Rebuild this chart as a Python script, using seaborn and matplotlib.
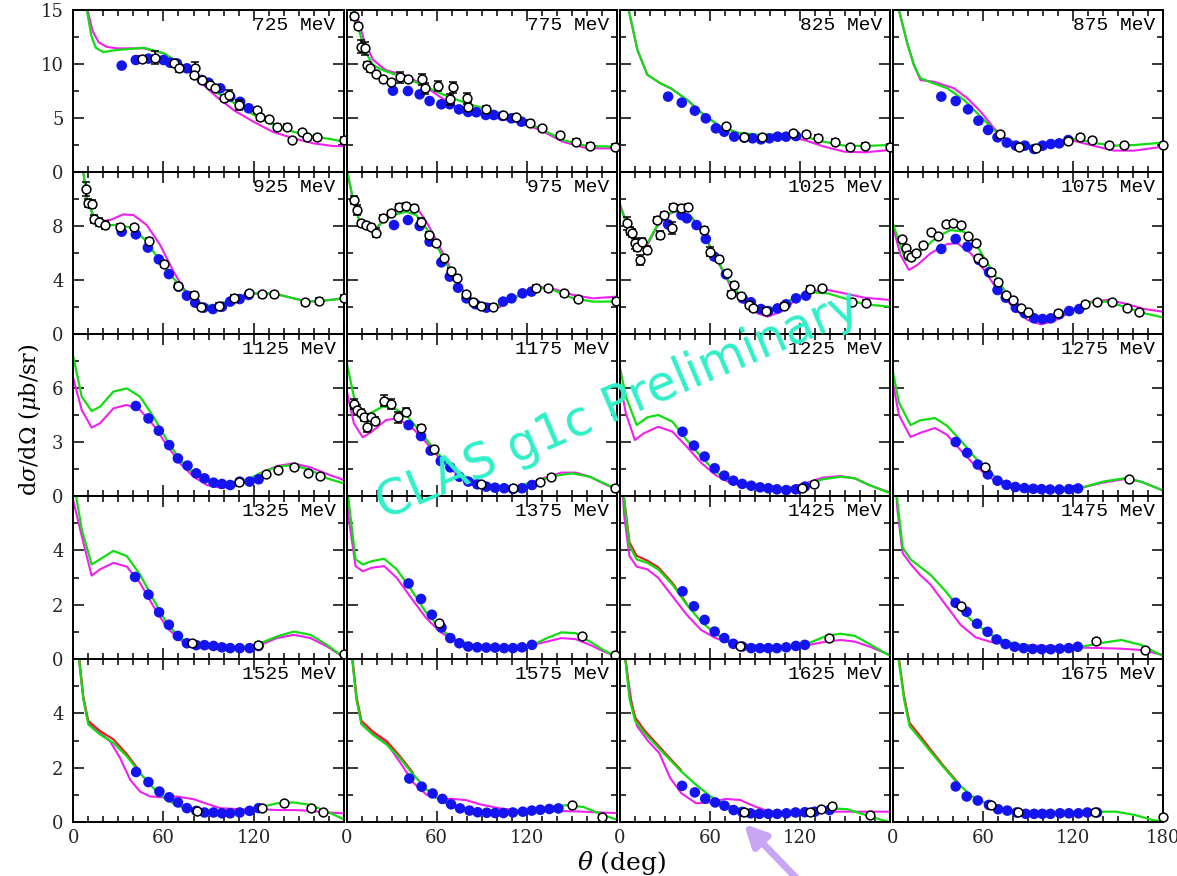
import matplotlib
matplotlib.use("Agg")
import matplotlib.pyplot as plt
import seaborn as sns
from matplotlib.ticker import MultipleLocator, FixedLocator
from matplotlib.patches import FancyArrowPatch

sns.set_theme(style="white")
plt.rcParams['font.family'] = ['DejaVu Serif', 'DejaVu Sans']
plt.rcParams['mathtext.fontset'] = 'dejavuserif'

energies = [725, 775, 825, 875, 925, 975, 1025, 1075, 1125, 1175, 1225, 1275,
            1325, 1375, 1425, 1475, 1525, 1575, 1625, 1675]

row_ymax = [15, 12, 9, 6, 6]
row_minor = [2.5, 2, 1.5, 1, 1]
row_ticklabels = [[0, 5, 10, 15], [0, 4, 8], [0, 3, 6], [0, 2, 4], [0, 2, 4]]
x_ticklabels = [0, 60, 120]

# ---- model curves (theta in deg, dsigma/dOmega in mub/sr) ----
green_th = {
    725: [0, 4, 9, 12, 15, 20, 29, 47, 60, 73, 84, 95, 107, 120, 133, 147, 160, 173, 180],
    775: [0, 4, 7.6, 12, 17.6, 24, 35, 51, 62, 80, 95, 113, 128.7, 144, 160, 180],
    825: [0, 3, 6, 11.8, 18.4, 27.3, 34, 45, 56, 67.3, 78.4, 94, 114, 123, 136, 149.6, 163, 180],
    875: [0, 2, 4, 9.6, 14, 18.4, 27.3, 36.2, 47.3, 58.4, 67.3, 76.2, 85, 96, 107, 118.4, 125, 136, 147, 160.7, 180],
    925: [0, 3, 6.7, 8.9, 12.2, 15.6, 22.2, 31, 40, 48.9, 57.8, 66.7, 75.6, 84.4, 93.3, 102.2, 111, 120, 133, 146.7, 155.6, 164.4, 180],
    975: [0, 4.2, 8.7, 13.1, 18.7, 24.2, 30.9, 39.8, 46.4, 53.1, 59.8, 66.4, 73.1, 79.8, 88.7, 95.3, 102, 110.9, 119.8, 128.7, 137.6, 150.9, 164, 180],
    1025: [0, 4, 8.4, 12.9, 18.4, 25.1, 32.9, 40.7, 48.4, 56.2, 65.1, 74, 82.9, 91.8, 98.4, 107.3, 118.4, 127.3, 138.4, 149.6, 162.9, 180],
    1075: [0, 4, 8.4, 12.9, 20.7, 29.6, 38.4, 47.3, 56.2, 65.1, 74, 82.9, 91.8, 100.7, 109.6, 120.7, 131.8, 142.9, 154, 167.3, 180],
    1125: [0, 5.6, 12.2, 17.8, 26.7, 35.6, 44.4, 53.3, 62.2, 71.1, 80, 88.9, 97.8, 106.7, 115.6, 124.4, 135.6, 146.7, 157.8, 168.9, 180],
    1175: [0, 4.9, 9.6, 15.6, 23.9, 31, 40.6, 50.1, 59.6, 69.1, 78.7, 90.6, 102.5, 114.4, 126.3, 138.2, 150.1, 162, 171.5, 180],
    1225: [0, 4.1, 11.3, 18.4, 25.6, 35.1, 44.6, 54.1, 63.7, 73.2, 85.1, 99.4, 113.7, 123.2, 135.1, 147, 156.5, 166, 180],
    1275: [0, 4, 11.7, 18, 28, 36, 45, 54, 62, 70, 80, 95, 110, 125, 140, 155, 165, 180],
    1325: [0, 2.2, 5.6, 12.2, 17.8, 26.7, 35.6, 44.4, 53.3, 62.2, 71.1, 80, 88.9, 102.2, 115.6, 124.4, 135.6, 146.7, 157.8, 168.9, 180],
    1375: [0, 1.3, 6, 10.8, 16.8, 25.1, 33.4, 43, 52.5, 62, 71.5, 83.4, 95.3, 109.6, 124, 133.4, 143, 152.5, 162, 171.5, 180],
    1425: [0, 3, 6.5, 11.3, 18.4, 25.6, 35.1, 44.6, 54.1, 63.7, 73.2, 85.1, 99.4, 113.7, 125.6, 137.5, 147, 156.5, 166, 180],
    1475: [0, 3, 6.5, 11.7, 18, 25, 35, 45, 55, 65, 75, 85, 100, 115, 125, 140, 152, 165, 180],
    1525: [0, 3.8, 6.7, 10, 17.8, 26.7, 35.6, 44.4, 53.3, 62.2, 71.1, 80, 88.9, 102.2, 115.6, 124.4, 135.6, 146.7, 157.8, 168.9, 180],
    1575: [0, 3.8, 6.7, 10, 17.8, 26.7, 35.6, 44.4, 53.3, 62.2, 71.1, 80, 88.9, 102.2, 115.6, 124.4, 135.6, 146.7, 157.8, 168.9, 180],
    1625: [0, 3.7, 6.6, 10.3, 16.4, 23.8, 31.2, 41, 50.8, 60.6, 70.4, 82.7, 95, 109.7, 124.4, 139.1, 151.4, 163.6, 178.4, 180],
    1675: [0, 3.8, 7.4, 11.1, 18.5, 25.8, 33.2, 43, 52.8, 62.6, 74.9, 89.6, 104.3, 121.5, 136.2, 148.5, 160.8, 173, 180],
}
green_y = {
    725: [40, 25, 15, 12.6, 11.5, 11.1, 11.3, 11.5, 11.0, 9.9, 8.7, 7.4, 6.4, 5.3, 4.35, 3.7, 3.3, 3.0, 2.8],
    775: [25, 15, 13.5, 11.3, 9.9, 9.44, 8.9, 8.05, 7.3, 6.36, 5.74, 4.97, 4.04, 2.96, 2.4, 2.35],
    825: [30, 20, 15, 11.3, 9.0, 8.2, 7.75, 6.67, 5.28, 4.2, 3.64, 3.43, 3.52, 3.27, 2.8, 2.44, 2.41, 2.5],
    875: [30, 20, 15, 11.9, 9.9, 8.67, 8.2, 7.75, 6.67, 5.12, 3.89, 2.96, 2.5, 2.41, 2.65, 3.12, 2.96, 2.65, 2.44, 2.5, 2.72],
    925: [20, 15, 12, 10.05, 9.06, 8.32, 8.07, 8.07, 7.83, 6.84, 5.36, 4.12, 3.01, 2.27, 2.02, 2.4, 2.77, 3.01, 3.01, 2.64, 2.4, 2.44, 2.64],
    975: [12.3, 10.05, 8.32, 7.83, 7.7, 8.32, 8.81, 9.06, 8.81, 7.83, 6.59, 5.23, 3.88, 2.89, 2.15, 1.95, 2.15, 2.64, 3.14, 3.43, 3.26, 2.64, 2.4, 2.4],
    1025: [9.56, 8.32, 7.09, 6.35, 6.72, 8.07, 8.94, 9.19, 8.57, 7.33, 5.48, 3.63, 2.52, 1.9, 1.78, 2.15, 2.77, 3.09, 3.01, 2.64, 2.2, 2.02],
    1075: [8.2, 6.84, 5.48, 5.6, 6.35, 7.21, 7.7, 7.58, 6.47, 4.86, 3.26, 2.15, 1.41, 1.11, 1.41, 1.9, 2.35, 2.4, 2.02, 1.53, 1.23],
    1125: [7.74, 5.52, 4.72, 4.96, 5.8, 5.98, 5.52, 4.41, 3.11, 2.0, 1.26, 0.8, 0.65, 0.7, 0.89, 1.26, 1.63, 1.72, 1.44, 0.98, 0.7],
    1175: [7.46, 5.52, 4.5, 4.59, 4.96, 4.93, 4.41, 3.48, 2.46, 1.63, 1.07, 0.7, 0.52, 0.56, 0.8, 1.11, 1.26, 1.07, 0.7, 0.37],
    1225: [7.19, 5.52, 3.94, 4.37, 4.5, 4.13, 3.11, 2.19, 1.35, 0.89, 0.56, 0.41, 0.43, 0.61, 0.93, 1.07, 0.98, 0.61, 0.15],
    1275: [6.9, 5.2, 3.94, 4.2, 4.33, 3.9, 3.1, 2.2, 1.44, 0.95, 0.6, 0.4, 0.35, 0.45, 0.8, 1.0, 0.8, 0.3],
    1325: [8, 5.89, 4.78, 3.48, 3.67, 3.98, 3.79, 3.11, 2.19, 1.32, 0.77, 0.52, 0.43, 0.4, 0.46, 0.58, 0.83, 1.01, 0.89, 0.52, 0.06],
    1375: [7, 5.89, 3.67, 3.48, 3.6, 3.69, 3.3, 2.56, 1.75, 1.14, 0.73, 0.52, 0.43, 0.43, 0.52, 0.77, 0.98, 0.95, 0.64, 0.31, 0.09],
    1425: [8, 5.77, 4.16, 3.67, 3.54, 3.3, 2.74, 2.0, 1.38, 0.93, 0.64, 0.48, 0.4, 0.43, 0.58, 0.85, 0.93, 0.85, 0.56, 0.11],
    1475: [8, 5.8, 4.1, 3.67, 3.4, 3.1, 2.5, 1.8, 1.3, 0.9, 0.65, 0.52, 0.42, 0.41, 0.45, 0.6, 0.7, 0.52, 0.1],
    1525: [9, 6.0, 4.52, 3.59, 3.22, 2.91, 2.42, 1.8, 1.25, 0.81, 0.57, 0.44, 0.38, 0.35, 0.42, 0.54, 0.69, 0.72, 0.63, 0.38, 0.1],
    1575: [9, 6.0, 4.5, 3.6, 3.2, 2.85, 2.35, 1.75, 1.2, 0.8, 0.55, 0.43, 0.37, 0.34, 0.38, 0.45, 0.55, 0.62, 0.55, 0.3, 0.08],
    1625: [9, 6.0, 4.52, 3.72, 3.28, 2.85, 2.42, 1.86, 1.37, 0.94, 0.63, 0.44, 0.36, 0.35, 0.38, 0.51, 0.47, 0.26, 0.01, 0.0],
    1675: [9, 6, 4.52, 3.53, 3.04, 2.54, 2.05, 1.43, 0.94, 0.67, 0.47, 0.36, 0.32, 0.32, 0.38, 0.38, 0.26, 0.07, 0.01],
}

magenta_th = {
    725: [0, 4, 9.5, 13, 17, 22, 29, 47, 60, 73, 84, 95, 107, 120, 133, 147, 160, 173, 180],
    775: [0, 4, 8, 12, 17.6, 26, 40, 51, 62, 73, 95, 113, 128.7, 144, 160, 180],
    825: [0, 3, 6, 11.8, 18.4, 27.3, 34, 45, 56, 67.3, 78.4, 94, 114, 123, 136, 149.6, 163, 180],
    875: [0, 2, 4, 9.6, 14, 18.4, 27.3, 40.7, 49.6, 58.4, 67.3, 76.2, 96, 118.4, 136, 147, 160.7, 180],
    925: [0, 3, 6.7, 8.9, 12.2, 15.6, 24.4, 33.3, 40, 48.9, 57.8, 66.7, 73.3, 84.4, 93.3, 102.2, 111, 120, 133, 146.7, 155.6, 164.4, 180],
    975: [0, 4.2, 8.7, 13.1, 18.7, 24.2, 30.9, 39.8, 46.4, 53.1, 59.8, 66.4, 73.1, 79.8, 88.7, 95.3, 102, 110.9, 119.8, 128.7, 137.6, 150.9, 164, 180],
    1025: [0, 4, 8.4, 12.9, 18.4, 25.1, 32.9, 40.7, 48.4, 56.2, 65.1, 74, 82.9, 91.8, 98.4, 107.3, 118.4, 127.3, 138.4, 149.6, 162.9, 180],
    1075: [0, 5.1, 10.7, 16.2, 25.1, 36.2, 42.9, 51.8, 60.7, 69.6, 80.7, 89.6, 98.4, 107.3, 118.4, 131.8, 142.9, 154, 167.3, 180],
    1125: [0, 5.6, 12.2, 17.8, 26.7, 35.6, 44.4, 53.3, 62.2, 71.1, 80, 88.9, 97.8, 106.7, 115.6, 124.4, 135.6, 146.7, 157.8, 168.9, 180],
    1175: [0, 4.9, 10.8, 16.8, 26.3, 33.4, 43, 52.5, 62, 71.5, 81, 93, 104.9, 116.8, 128.7, 143, 152.5, 162, 171.5, 180],
    1225: [0, 4.1, 10.1, 16, 25.6, 35.1, 44.6, 54.1, 63.7, 73.2, 85.1, 99.4, 113.7, 123.2, 135.1, 147, 156.5, 166, 180],
    1275: [0, 4, 11.7, 18, 28, 36, 45, 54, 62, 70, 80, 95, 110, 125, 140, 155, 165, 180],
    1325: [0, 5.6, 12.2, 17.8, 26.7, 35.6, 44.4, 53.3, 62.2, 71.1, 80, 88.9, 102.2, 115.6, 124.4, 135.6, 146.7, 157.8, 168.9, 180],
    1375: [0, 1.3, 6, 10.8, 16.8, 25.1, 33.4, 43, 52.5, 62, 71.5, 83.4, 95.3, 109.6, 124, 133.4, 143, 152.5, 162, 171.5, 180],
    1425: [0, 3, 6.5, 11.3, 18.4, 25.6, 35.1, 44.6, 54.1, 63.7, 73.2, 85.1, 99.4, 113.7, 125.6, 137.5, 147, 156.5, 166, 180],
    1475: [0, 3, 6.5, 11.7, 18, 25, 35, 45, 55, 65, 75, 85, 100, 115, 125, 140, 152, 165, 180],
    1525: [0, 3.8, 6.7, 10, 17.8, 24.4, 31.1, 37.8, 44.4, 51.1, 60, 68.9, 80, 88.9, 97.8, 111.1, 124.4, 135.6, 146.7, 157.8, 168.9, 180],
    1575: [0, 3.8, 6.7, 10, 17.8, 26.7, 35.6, 44.4, 53.3, 62.2, 71.1, 80, 88.9, 102.2, 115.6, 124.4, 135.6, 146.7, 157.8, 168.9, 180],
    1625: [0, 3.7, 7.9, 11.5, 18.9, 26.3, 33.6, 41, 50.8, 60.6, 70.4, 80.2, 90, 99.9, 114.6, 134.2, 153.8, 180],
    1675: [],
}
magenta_y = {
    725: [40, 25, 15, 13, 12.0, 11.6, 11.45, 11.45, 11.0, 9.75, 8.4, 7.0, 5.7, 4.65, 3.7, 3.1, 2.65, 2.4, 2.4],
    775: [25, 15.5, 14, 12.07, 10.4, 9.44, 8.9, 8.05, 6.98, 6.05, 5.12, 4.66, 3.9, 2.8, 2.19, 2.19],
    825: [30, 20, 15, 11.3, 9.0, 8.2, 7.75, 6.67, 5.28, 4.2, 3.64, 3.2, 3.2, 2.96, 2.35, 1.88, 1.82, 2.04],
    875: [30, 20, 15, 11.9, 9.9, 8.5, 8.36, 7.75, 6.82, 5.59, 4.04, 2.96, 2.19, 2.96, 2.35, 1.98, 1.98, 2.35],
    925: [20, 15, 12, 10.05, 9.06, 8.32, 8.44, 8.86, 8.81, 8.07, 6.59, 4.62, 3.38, 2.15, 1.9, 2.27, 2.7, 3.0, 3.01, 2.64, 2.4, 2.44, 2.64],
    975: [12.3, 10.05, 8.32, 7.83, 7.7, 8.4, 9.1, 9.6, 9.43, 8.32, 6.96, 5.48, 4.0, 2.9, 2.0, 1.78, 2.0, 2.6, 3.2, 3.5, 3.35, 2.89, 2.64, 2.77],
    1025: [9.68, 8.4, 7.0, 6.2, 6.6, 8.0, 8.9, 9.2, 8.6, 7.3, 5.4, 3.5, 2.3, 1.53, 1.28, 1.65, 2.64, 3.19, 3.26, 3.01, 2.69, 2.52],
    1075: [7.95, 5.85, 4.74, 5.11, 5.98, 6.67, 6.72, 5.98, 4.74, 3.26, 1.9, 1.04, 0.72, 0.96, 1.65, 2.4, 2.52, 2.27, 1.85, 1.65],
    1125: [6.54, 4.78, 3.8, 4.04, 4.87, 5.06, 4.78, 3.94, 2.83, 1.81, 1.07, 0.61, 0.46, 0.52, 0.8, 1.26, 1.67, 1.81, 1.59, 1.22, 0.89],
    1175: [5.89, 4.04, 3.26, 3.57, 4.22, 4.31, 3.85, 3.02, 2.09, 1.35, 0.85, 0.52, 0.43, 0.56, 0.93, 1.3, 1.3, 1.07, 0.67, 0.37],
    1225: [6.44, 4.59, 3.11, 3.48, 3.85, 3.57, 2.74, 1.85, 1.17, 0.74, 0.52, 0.37, 0.48, 0.7, 1.02, 1.11, 0.98, 0.61, 0.19],
    1275: [6.3, 4.5, 3.28, 3.5, 3.78, 3.4, 2.55, 1.75, 1.17, 0.75, 0.5, 0.36, 0.35, 0.45, 0.75, 0.95, 0.8, 0.3],
    1325: [5.83, 4.53, 3.07, 3.3, 3.54, 3.4, 2.8, 1.94, 1.16, 0.7, 0.48, 0.4, 0.36, 0.4, 0.52, 0.77, 0.89, 0.77, 0.46, 0.06],
    1375: [6.5, 5.27, 3.42, 3.23, 3.36, 3.42, 2.99, 2.25, 1.54, 1.01, 0.68, 0.52, 0.46, 0.46, 0.52, 0.64, 0.77, 0.73, 0.52, 0.27, 0.09],
    1425: [8, 5.27, 3.79, 3.4, 3.3, 2.99, 2.31, 1.63, 1.07, 0.77, 0.6, 0.52, 0.46, 0.48, 0.52, 0.64, 0.7, 0.64, 0.46, 0.15],
    1475: [8, 5.5, 3.9, 3.5, 3.1, 2.74, 2.0, 1.26, 0.8, 0.63, 0.55, 0.52, 0.48, 0.45, 0.42, 0.4, 0.38, 0.33, 0.15],
    1525: [9, 6, 4.52, 3.65, 3.28, 2.98, 2.36, 1.56, 1.12, 0.94, 0.91, 0.94, 0.84, 0.67, 0.51, 0.47, 0.47, 0.44, 0.44, 0.41, 0.35, 0.32],
    1575: [9, 6, 4.5, 3.6, 3.25, 2.9, 2.2, 1.45, 1.0, 0.85, 0.85, 0.8, 0.65, 0.5, 0.42, 0.4, 0.4, 0.4, 0.38, 0.35, 0.33],
    1625: [9, 6, 4.4, 3.53, 2.98, 2.54, 1.62, 1.06, 0.69, 0.72, 0.85, 0.81, 0.57, 0.38, 0.35, 0.38, 0.38, 0.38],
    1675: [],
}

# red curve: visible only at forward angles in the high-energy panels
red_th = {
    1425: [0, 3, 6.5, 11.3, 18.4, 25.6, 35.1, 44.6],
    1525: [0, 3.8, 6.7, 10, 17.8, 26.7, 35.6, 44.4],
    1575: [0, 3.8, 6.7, 10, 17.8, 26.7, 35.6, 44.4],
    1625: [0, 3.7, 6.6, 10.3, 16.4, 23.8, 31.2, 41],
    1675: [0, 3.8, 7.4, 11.1, 18.5, 25.8, 33.2, 43],
}
red_y = {
    1425: [8, 5.9, 4.3, 3.8, 3.62, 3.38, 2.8, 2.04],
    1525: [9, 6.1, 4.6, 3.72, 3.35, 3.04, 2.5, 1.85],
    1575: [9, 6.1, 4.6, 3.72, 3.32, 2.98, 2.42, 1.8],
    1625: [9, 6.1, 4.65, 3.85, 3.38, 2.93, 2.48, 1.9],
    1675: [9, 6.1, 4.65, 3.65, 3.14, 2.62, 2.1, 1.47],
}

# ---- CLAS g1c (filled blue) ----
blue_th = {
    725: [32.2, 41.6, 50, 60, 64.4, 68.9, 75.6, 85.6, 90, 97.8, 104.4, 111, 116.7],
    775: [30.9, 40.9, 48.7, 55.3, 63.1, 68.7, 74.9, 80.9, 86.4, 92.7, 98, 103.8, 109.8, 116.4],
    825: [32.2, 41.3, 50, 57.3, 64, 69.6, 76.2, 82.9, 88.4, 94, 99.6, 105.1, 110.7, 117.3],
    875: [32.2, 41.8, 50, 56.9, 63.3, 69.6, 75.8, 81.8, 87.8, 94, 99.6, 105.1, 110.7, 116.7],
    925: [32.2, 41.6, 49.6, 56.9, 63.6, 70, 75.6, 81.1, 86.7, 92.9, 98.9, 104.4, 110.7, 116.7],
    975: [31.6, 40.9, 48.7, 55.3, 63.1, 68.7, 74.2, 79.8, 86, 93.1, 104.2, 109.8, 117.1, 123.1],
    1025: [32.2, 41.1, 44.7, 51.1, 57.3, 62.9, 70.7, 81.8, 87.3, 94, 98.9, 105.1, 110.7, 117.3, 124],
    1075: [32.2, 41.8, 49.6, 57.3, 64, 69.6, 75.1, 81.8, 87.8, 94, 99.6, 105.1, 110.7, 117.3, 124],
    1125: [41.6, 50, 56.9, 63.8, 69.6, 76, 81.8, 87.3, 93.3, 98.9, 104.4, 110.7, 117.3, 123.3],
    1175: [41.3, 49.6, 56, 62.7, 69.1, 75.1, 81, 87, 93, 98.9, 104.9, 110.8, 116.8, 123.4],
    1225: [41.8, 49.4, 56.5, 63.2, 69.6, 75.6, 81.5, 87.5, 93.4, 98.9, 104.6, 110.8, 117.2, 123.2],
    1275: [41.8, 49.4, 56.5, 63.2, 69.6, 75.6, 81.5, 87.5, 93.4, 98.9, 104.6, 110.8, 117.2, 123.2],
    1325: [41.1, 50, 57.1, 63.6, 69.6, 75.6, 81.8, 87.3, 93.3, 98.9, 104.4, 110.7, 117.3, 123.3],
    1375: [41.3, 49.6, 56.8, 63.2, 69.1, 75.1, 81, 87, 93, 98.9, 104.9, 110.8, 116.8, 123.4],
    1425: [41.8, 49.4, 56.5, 63.2, 69.6, 75.6, 81.5, 87.5, 93.4, 98.9, 104.6, 110.8, 117.2, 123.2],
    1475: [41.7, 49, 56, 63, 69, 75, 81, 87, 93, 99, 105, 111, 117, 123],
    1525: [41.8, 50, 57.3, 63.8, 69.6, 75.6, 81.8, 87.3, 93.3, 98.9, 104.4, 110.7, 117.3, 123.3],
    1575: [41.8, 50, 57.3, 63.8, 69.6, 75.6, 81.8, 87.3, 93.3, 98.9, 104.4, 110.7, 117.3, 123.3, 129, 135, 141],
    1625: [41.5, 50, 56.9, 63.5, 69.7, 75.8, 81.5, 87.1, 93, 98.9, 104.8, 110.9, 117, 123.2, 129.8, 139.6],
    1675: [41.8, 49.1, 56.5, 63.9, 70, 76.1, 82.3, 88.4, 94, 99.4, 104.8, 111.2, 117.1, 123.5, 129.4, 135.8],
}
blue_y = {
    725: [9.85, 10.37, 10.5, 10.37, 10.12, 10.06, 9.6, 8.52, 8.27, 7.75, 6.98, 6.5, 5.9],
    775: [7.53, 7.5, 7.19, 6.57, 6.27, 6.27, 5.8, 5.56, 5.53, 5.28, 5.28, 5.19, 4.97, 4.66],
    825: [6.98, 6.42, 5.68, 4.97, 4.04, 3.73, 3.27, 3.18, 3.12, 3.02, 3.12, 3.27, 3.27, 3.33],
    875: [6.98, 6.57, 5.8, 4.75, 3.89, 3.21, 2.72, 2.44, 2.44, 2.13, 2.44, 2.59, 2.65, 2.96],
    925: [7.58, 7.38, 6.4, 5.53, 4.44, 3.51, 2.84, 2.32, 1.95, 1.85, 2.02, 2.4, 2.59, 2.89],
    975: [8.07, 8.44, 8.0, 6.84, 5.31, 4.25, 3.43, 2.64, 2.2, 1.95, 2.4, 2.64, 3.01, 3.14],
    1025: [8.12, 8.81, 8.57, 8.07, 7.04, 5.73, 4.42, 2.64, 2.35, 1.85, 1.7, 1.9, 2.2, 2.64, 2.84],
    1075: [6.3, 7.04, 6.47, 5.48, 4.57, 3.26, 2.69, 1.95, 1.53, 1.16, 1.11, 1.16, 1.46, 1.7, 1.85],
    1125: [5.0, 4.31, 3.63, 2.83, 2.09, 1.69, 1.26, 0.98, 0.74, 0.67, 0.61, 0.8, 0.8, 0.93],
    1175: [3.94, 3.33, 2.52, 1.94, 1.59, 1.07, 0.8, 0.65, 0.52, 0.46, 0.43, 0.39, 0.43, 0.61],
    1225: [3.57, 2.8, 2.19, 1.54, 1.13, 0.85, 0.67, 0.57, 0.48, 0.43, 0.37, 0.33, 0.37, 0.52],
    1275: [3.0, 2.4, 1.75, 1.2, 0.85, 0.62, 0.5, 0.44, 0.4, 0.38, 0.36, 0.36, 0.38, 0.42],
    1325: [3.02, 2.37, 1.72, 1.26, 0.85, 0.58, 0.51, 0.51, 0.48, 0.43, 0.4, 0.4, 0.4, 0.48],
    1375: [2.78, 2.21, 1.63, 1.16, 0.77, 0.58, 0.46, 0.43, 0.42, 0.42, 0.4, 0.4, 0.43, 0.52],
    1425: [2.49, 1.94, 1.44, 1.01, 0.77, 0.56, 0.46, 0.4, 0.4, 0.4, 0.4, 0.43, 0.48, 0.52],
    1475: [2.07, 1.74, 1.3, 1.0, 0.72, 0.55, 0.45, 0.4, 0.37, 0.36, 0.36, 0.38, 0.4, 0.45],
    1525: [1.84, 1.47, 1.12, 0.91, 0.72, 0.51, 0.41, 0.35, 0.35, 0.32, 0.32, 0.35, 0.41, 0.51],
    1575: [1.6, 1.3, 1.05, 0.85, 0.65, 0.5, 0.42, 0.36, 0.34, 0.33, 0.33, 0.35, 0.38, 0.42, 0.45, 0.48, 0.5],
    1625: [1.33, 1.09, 0.86, 0.72, 0.6, 0.44, 0.37, 0.32, 0.3, 0.3, 0.3, 0.32, 0.35, 0.36, 0.38, 0.44],
    1675: [1.31, 0.94, 0.79, 0.63, 0.47, 0.42, 0.35, 0.3, 0.3, 0.3, 0.3, 0.32, 0.32, 0.32, 0.35, 0.35],
}

# ---- other data (open circles) ----
open_th = {
    725: [45.6, 54.4, 66.7, 70.4, 81.1, 80, 85.6, 91.1, 94.4, 100, 103.3, 110, 122.2, 124.4, 130, 135.6, 142.2, 145.6, 152.2, 155.6, 162.2, 180],
    775: [5.3, 7.6, 9.8, 12, 13.6, 15.8, 19.8, 24.2, 29.8, 35.3, 40.9, 50.4, 52, 60.9, 68.7, 70.9, 80.2, 80.9, 92.7, 104.2, 113.1, 122.4, 130.4, 142, 152.7, 162, 178.7],
    825: [70.7, 82.9, 94.4, 115.1, 124, 132.2, 143.3, 153.3, 162.9, 180],
    875: [71.1, 84, 95.1, 116.2, 124.7, 132.2, 143.6, 154, 180],
    925: [8.4, 10, 12.2, 14, 17.3, 21.1, 31.1, 40.4, 50.7, 60.4, 70, 80.4, 85.1, 96.7, 106.7, 116.7, 125.6, 133.3, 154, 163.3, 180],
    975: [5.3, 6.9, 9.8, 13.1, 16.4, 19.8, 24.2, 29.8, 34.9, 39.8, 44.7, 49.8, 54.9, 59.8, 64.9, 69.8, 73.6, 79.3, 84.2, 89.8, 97.6, 126.4, 133.8, 144.7, 154.2, 179.3],
    1025: [5.1, 6.9, 8.4, 10, 11.8, 13.6, 15.1, 18, 26.9, 25.1, 29.6, 35.1, 35.8, 40.7, 45.6, 56.2, 60.2, 66.2, 71.3, 75.8, 74, 80.7, 85.8, 88.4, 97.3, 109.1, 126.9, 134.4, 154.4, 164],
    1075: [6.2, 8.4, 10, 12.2, 15.1, 20.2, 25.1, 30, 35.1, 40.2, 45.1, 50, 55.1, 56.7, 60.2, 65.1, 70, 75.1, 80.2, 85.1, 89.6, 110, 127.8, 135.8, 145.8, 155.6, 163.6],
    1125: [110.4, 128.4, 136.2, 146.7, 156, 164.4],
    1175: [4.9, 6.8, 9.6, 11.5, 13.9, 16.3, 19.1, 25.1, 29.9, 34.6, 39.4, 49.6, 58.4, 89.4, 110.8, 128.7, 136.3, 178.7],
    1225: [121.5, 129.6],
    1275: [61, 157],
    1325: [78.9, 122.9, 180],
    1375: [61.5, 156.8, 178.7],
    1425: [80.3, 139.4],
    1475: [45, 135, 168],
    1525: [82.2, 125.6, 140.4, 158.2, 166.2],
    1575: [150, 170],
    1625: [82.7, 126.4, 133.7, 141.1, 166.6],
    1675: [65.1, 83.5, 134.5, 179.9],
}
open_y = {
    725: [10.5, 10.6, 10.06, 9.6, 9.6, 8.98, 8.52, 8.05, 7.75, 6.82, 7.13, 6.2, 5.7, 5.06, 4.9, 4.2, 4.2, 2.96, 3.7, 3.2, 3.2, 2.96],
    775: [14.4, 13.5, 11.6, 11.45, 9.9, 9.6, 9.07, 8.58, 8.36, 8.77, 8.64, 8.58, 7.75, 7.96, 6.73, 7.84, 6.82, 6.05, 5.8, 5.28, 5.06, 4.57, 4.04, 3.43, 2.81, 2.44, 2.35],
    825: [4.26, 3.27, 3.21, 3.64, 3.52, 3.18, 2.81, 2.28, 2.44, 2.35],
    875: [3.52, 2.28, 2.19, 2.9, 3.21, 2.96, 2.5, 2.5, 2.5],
    925: [10.74, 9.68, 9.6, 8.52, 8.32, 8.07, 7.95, 7.9, 6.89, 5.19, 3.58, 2.89, 2.02, 2.1, 2.69, 3.01, 2.94, 2.94, 2.35, 2.44, 2.69],
    975: [9.93, 9.19, 8.2, 8.07, 7.95, 7.51, 8.62, 8.94, 9.43, 9.48, 9.36, 8.32, 7.33, 6.72, 5.6, 4.67, 4.17, 2.94, 2.4, 2.1, 2.02, 3.43, 3.38, 3.01, 2.57, 2.47],
    1025: [8.2, 7.63, 7.46, 6.72, 6.47, 5.48, 6.84, 6.22, 7.33, 8.44, 8.81, 7.83, 9.43, 9.36, 9.43, 7.7, 6.1, 5.56, 4.49, 3.63, 3.0, 2.82, 2.15, 1.9, 1.7, 2.1, 3.33, 3.38, 2.4, 2.32],
    1075: [7.04, 6.4, 5.85, 5.73, 5.98, 6.59, 7.53, 7.28, 8.12, 8.25, 8.07, 7.28, 6.72, 5.6, 5.36, 4.62, 3.83, 2.89, 2.52, 1.9, 1.65, 1.53, 2.2, 2.4, 2.4, 1.95, 1.65],
    1125: [0.8, 1.2, 1.44, 1.63, 1.26, 1.11],
    1175: [5.11, 4.78, 4.63, 4.37, 3.85, 4.37, 4.19, 5.3, 5.11, 4.37, 4.69, 3.8, 2.59, 0.65, 0.43, 0.8, 1.07, 0.43],
    1225: [0.43, 0.67],
    1275: [1.6, 0.95],
    1325: [0.6, 0.52, 0.17],
    1375: [1.32, 0.83, 0.15],
    1425: [0.48, 0.77],
    1475: [1.95, 0.67, 0.33],
    1525: [0.42, 0.51, 0.69, 0.51, 0.35],
    1575: [0.62, 0.2],
    1625: [0.38, 0.38, 0.47, 0.59, 0.26],
    1675: [0.63, 0.35, 0.38, 0.2],
}
open_err = {
    725: [0.2, 0.6, 0.2, 0.3, 0.6, 0.3, 0.2, 0.2, 0.2, 0.2, 0.5, 0.5, 0.2, 0.2, 0.2, 0.2, 0.2, 0.2, 0.2, 0.2, 0.2, 0.3],
    775: [0.3, 0.3, 0.6, 0.6, 0.3, 0.3, 0.2, 0.2, 0.2, 0.5, 0.2, 0.5, 0.5, 0.5, 0.5, 0.5, 0.5, 0.4, 0.3, 0.2, 0.2, 0.2, 0.2, 0.2, 0.2, 0.2, 0.2],
    825: [0.2] * 10,
    875: [0.2] * 9,
    925: [0.5, 0.3, 0.3, 0.3, 0.3, 0.3, 0.2, 0.2, 0.2, 0.2, 0.2, 0.2, 0.2, 0.2, 0.2, 0.2, 0.2, 0.2, 0.2, 0.2, 0.2],
    975: [0.3, 0.4, 0.2, 0.2, 0.2, 0.35, 0.2, 0.2, 0.2, 0.2, 0.2, 0.3, 0.2, 0.2, 0.2, 0.2, 0.2, 0.2, 0.2, 0.2, 0.2, 0.2, 0.2, 0.2, 0.2, 0.2],
    1025: [0.5, 0.3, 0.3, 0.4, 0.3, 0.4, 0.3, 0.3, 0.3, 0.2, 0.2, 0.45, 0.2, 0.2, 0.2, 0.2, 0.35, 0.2, 0.2, 0.2, 0.2, 0.2, 0.2, 0.2, 0.2, 0.2, 0.2, 0.2, 0.2, 0.2],
    1075: [0.15] * 27,
    1125: [0.1] * 6,
    1175: [0.3, 0.3, 0.2, 0.2, 0.3, 0.2, 0.2, 0.3, 0.3, 0.3, 0.2, 0.15, 0.15, 0.1, 0.1, 0.1, 0.1, 0.1],
    1225: [0.05, 0.05],
    1275: [0.05, 0.05],
    1325: [0.05] * 3,
    1375: [0.05] * 3,
    1425: [0.05] * 2,
    1475: [0.05] * 3,
    1525: [0.05] * 5,
    1575: [0.05] * 2,
    1625: [0.05] * 5,
    1675: [0.05] * 4,
}

# ---- figure layout (pixel geometry of the original) ----
W, H = 1177, 876
fig = plt.figure(figsize=(W / 100, H / 100), dpi=100)
col_left = [73.3, 346.5, 619.7, 892.9]
panel_w = 270.5
row_top = [10, 172, 334, 496, 659]
row_bot = [172, 334, 496, 659, 822]

MAG = "#f020f0"
GRN = "#12dc12"
RED = "#e81c1c"
PT_BLUE = "#1414f0"

for i, e in enumerate(energies):
    r, c = divmod(i, 4)
    ax = fig.add_axes([col_left[c] / W, 1 - row_bot[r] / H, panel_w / W,
                       (row_bot[r] - row_top[r]) / H])
    ax.set_facecolor("white")

    if magenta_th[e]:
        sns.lineplot(x=magenta_th[e], y=magenta_y[e], ax=ax, color=MAG, lw=1.5,
                     sort=False, estimator=None, legend=False, zorder=2)
    if e in red_th:
        sns.lineplot(x=red_th[e], y=red_y[e], ax=ax, color=RED, lw=1.5,
                     sort=False, estimator=None, legend=False, zorder=2.2)
    sns.lineplot(x=green_th[e], y=green_y[e], ax=ax, color=GRN, lw=1.6,
                 sort=False, estimator=None, legend=False, zorder=2.3)

    sns.scatterplot(x=blue_th[e], y=blue_y[e], ax=ax, color=PT_BLUE, s=58,
                    edgecolor="none", zorder=3, legend=False, clip_on=False)
    ax.errorbar(open_th[e], open_y[e], yerr=open_err[e], fmt="none",
                ecolor="black", elinewidth=1.1, capsize=3.2, capthick=1.1,
                zorder=3.5, clip_on=False)
    sns.scatterplot(x=open_th[e], y=open_y[e], ax=ax, facecolor="white",
                    edgecolor="black", linewidth=1.1, s=40, zorder=4,
                    legend=False, clip_on=False)

    ax.set_xlim(0, 180)
    ax.set_ylim(0, row_ymax[r])
    ax.xaxis.set_major_locator(FixedLocator([0, 60, 120, 180]))
    ax.xaxis.set_minor_locator(MultipleLocator(10))
    ax.yaxis.set_major_locator(FixedLocator(row_ticklabels[r]))
    ax.yaxis.set_minor_locator(MultipleLocator(row_minor[r]))
    ax.tick_params(which="both", direction="in", top=True, right=True,
                   bottom=True, left=True, color="black", width=1.1)
    ax.tick_params(which="major", length=8)
    ax.tick_params(which="minor", length=4.5)
    ax.tick_params(axis="y", labelsize=13, pad=7, labelleft=(c == 0))
    ax.tick_params(axis="x", labelsize=13, pad=5, labelbottom=(r == 4))
    if r == 4:
        labs = x_ticklabels + ([180] if c == 3 else [])
        ax.set_xticklabels([str(v) if v in labs else "" for v in [0, 60, 120, 180]])
    if c == 0:
        ax.set_yticklabels([str(v) for v in row_ticklabels[r]])
    ax.set_xlabel("")
    ax.set_ylabel("")
    for sp in ax.spines.values():
        sp.set_color("black")
        sp.set_linewidth(1.4)
    ax.text(0.97, 0.955, f"{e} MeV", transform=ax.transAxes, ha="right",
            va="top", fontsize=14, family="Liberation Mono", color="black",
            zorder=6)

fig.text(30 / W, 1 - 420 / H, r"d$\sigma$/d$\Omega$ ($\mu$b/sr)", rotation=90,
         ha="center", va="center", fontsize=16, color="black")
fig.text(622 / W, 1 - 863 / H, r"$\theta$ (deg)", ha="center", va="center",
         fontsize=18, color="black")

fig.text(618 / W, 1 - 405 / H, "CLAS g1c Preliminary", rotation=23,
         rotation_mode="anchor", ha="center", va="center", fontsize=35,
         color="#2ef0c8", family="DejaVu Sans", zorder=10)

arrow = FancyArrowPatch(posA=(808 / W, -14 / H), posB=(742 / W, 54 / H),
                        transform=fig.transFigure, arrowstyle="-|>",
                        mutation_scale=32, linewidth=5, color="#c8a6f6",
                        zorder=10)
fig.add_artist(arrow)

fig.savefig("out.png", dpi=100, facecolor="white")
